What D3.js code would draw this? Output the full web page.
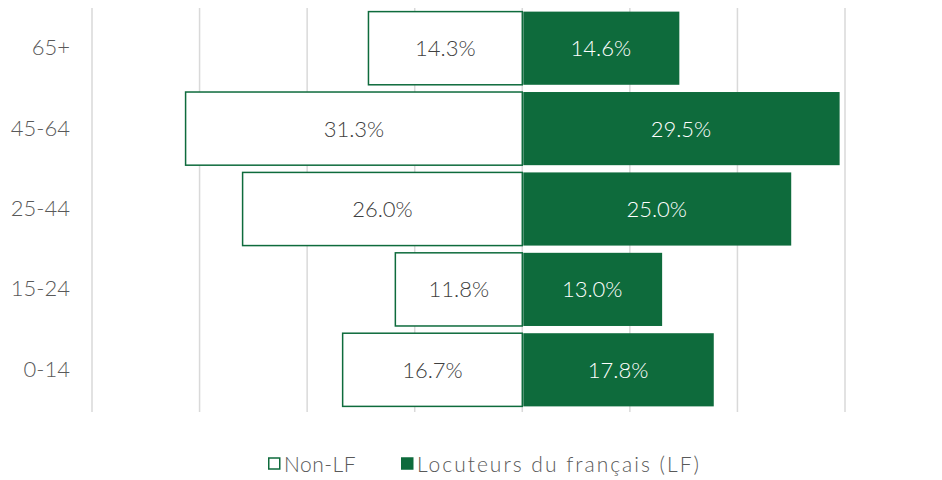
<!DOCTYPE html>
<html>
<head>
<meta charset="utf-8">
<script src="https://cdn.jsdelivr.net/npm/d3@7"></script>
<style>
  body { margin: 0; background: #fff; }
  text { font-family: "Lato", "DejaVu Sans", sans-serif; font-weight: 300; }
</style>
</head>
<body>
<div id="chart"></div>
<script>
// age groups, top to bottom
let ageGroups = ["65+", "45-64", "25-44", "15-24", "0-14"];
// share of each group (%)
let nonLF = [14.3, 31.3, 26.0, 11.8, 16.7];
let speakersLF = [14.6, 29.5, 25.0, 13.0, 17.8];
let seriesNames = ["Non-LF", "Locuteurs du français (LF)"];
let gridTicks = [-40, -30, -20, -10, 0, 10, 20, 30];

let width = 942, height = 480;
let margin = {top: 8, right: 97, bottom: 70, left: 92};
let green = "#0e6b3c";

let svg = d3.select("#chart").append("svg")
    .attr("width", width)
    .attr("height", height);

let x = d3.scaleLinear()
    .domain([-40, 30])
    .range([margin.left, width - margin.right]);

let y = d3.scaleBand()
    .domain(ageGroups)
    .range([margin.top, height - margin.bottom])
    .paddingInner(0.09)
    .paddingOuter(0.045);

// vertical gridlines
svg.append("g")
    .selectAll("line")
    .data(gridTicks)
    .enter().append("line")
    .attr("x1", d => x(d)).attr("x2", d => x(d))
    .attr("y1", margin.top).attr("y2", height - margin.bottom + 2)
    .attr("stroke", "#d9d9d9")
    .attr("stroke-width", 1.5);

let rows = ageGroups.map((g, i) => ({group: g, left: nonLF[i], right: speakersLF[i]}));

// non-LF bars (left, outlined)
svg.append("g")
    .selectAll("rect")
    .data(rows)
    .enter().append("rect")
    .attr("x", d => x(-d.left))
    .attr("y", d => y(d.group))
    .attr("width", d => x(0) - x(-d.left))
    .attr("height", y.bandwidth())
    .attr("fill", "#fff")
    .attr("stroke", green)
    .attr("stroke-width", 1.5);

// LF bars (right, filled)
svg.append("g")
    .selectAll("rect")
    .data(rows)
    .enter().append("rect")
    .attr("x", x(0) + 1)
    .attr("y", d => y(d.group))
    .attr("width", d => x(d.right) - x(0) - 1)
    .attr("height", y.bandwidth())
    .attr("fill", green);

let fmt = d => d.toFixed(1) + "%";

// labels
svg.append("g")
    .selectAll("text")
    .data(rows)
    .enter().append("text")
    .attr("x", d => (x(-d.left) + x(0)) / 2)
    .attr("y", d => y(d.group) + y.bandwidth() / 2)
    .attr("dy", "0.36em")
    .attr("text-anchor", "middle")
    .attr("font-size", 22)
    .attr("fill", "#404040")
    .text(d => fmt(d.left));

svg.append("g")
    .selectAll("text")
    .data(rows)
    .enter().append("text")
    .attr("x", d => (x(d.right) + x(0)) / 2)
    .attr("y", d => y(d.group) + y.bandwidth() / 2)
    .attr("dy", "0.36em")
    .attr("text-anchor", "middle")
    .attr("font-size", 22)
    .attr("fill", "#fff")
    .text(d => fmt(d.right));

// category axis
let yAxis = d3.axisLeft(y).tickSize(0).tickPadding(0);
svg.append("g")
    .attr("transform", "translate(70,0)")
    .call(yAxis)
    .call(g => g.select(".domain").remove())
    .selectAll("text")
    .attr("font-family", null)
    .attr("font-size", 22)
    .attr("fill", "#595959");

// legend
let legend = svg.append("g").attr("transform", "translate(0,464)");
let items = [
    {name: seriesNames[0], x: 268, fill: "#fff", spacing: 0.5},
    {name: seriesNames[1], x: 401, fill: green, spacing: 2}
];
items.forEach(it => {
    legend.append("rect")
        .attr("x", it.x + 0.75).attr("y", -6)
        .attr("width", 11).attr("height", 11)
        .attr("fill", it.fill)
        .attr("stroke", green)
        .attr("stroke-width", 1.5);
    legend.append("text")
        .attr("x", it.x + 16)
        .attr("y", 0)
        .attr("dy", "0.36em")
        .attr("font-size", 21)
        .attr("letter-spacing", it.spacing)
        .attr("fill", "#595959")
        .text(it.name);
});
</script>
</body>
</html>
